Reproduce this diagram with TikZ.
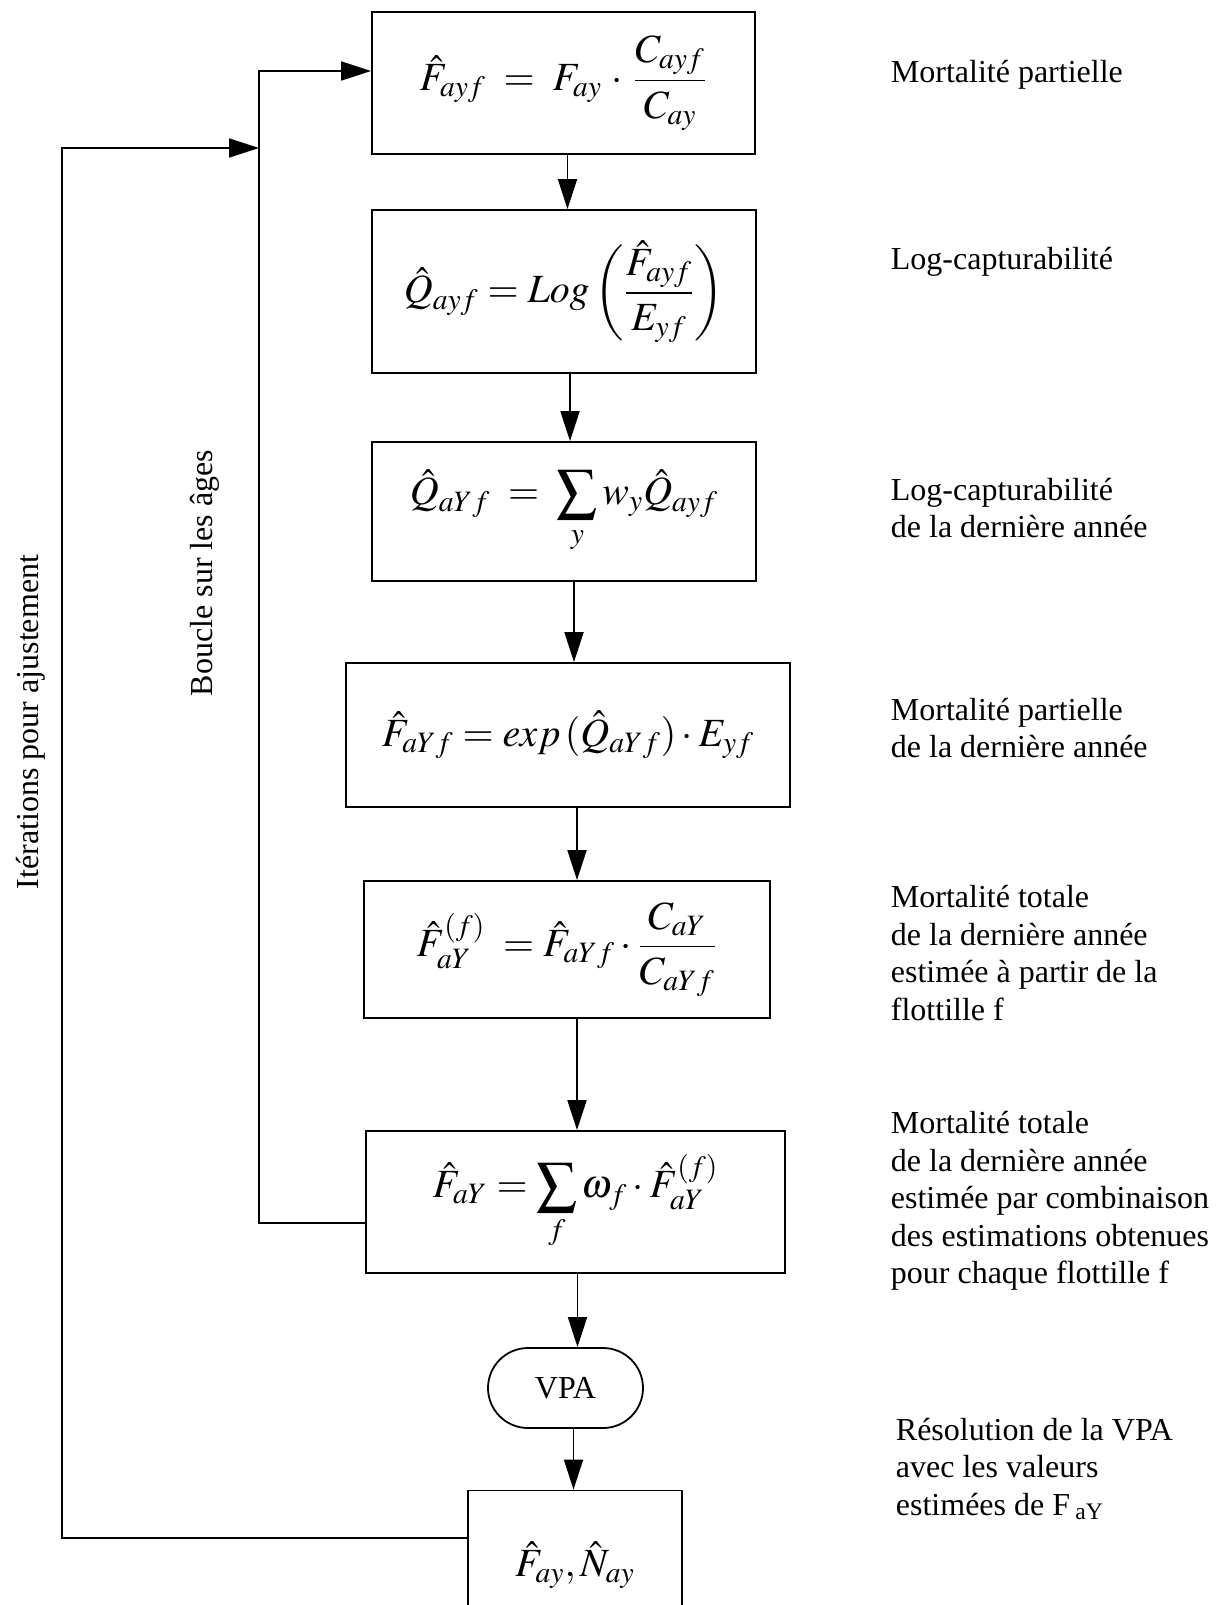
\documentclass[tikz,border=0pt]{standalone}
\usepackage{mathptmx}
\usepackage[no-math]{fontspec}
\setmainfont{Liberation Serif}
\usetikzlibrary{arrows.meta}

\begin{document}
\begin{tikzpicture}[x=0.5pt, y=-0.5pt, line width=0.9pt,
    >={Triangle[length=15pt,width=9.5pt]},
    box/.style={draw, inner sep=0pt, font=\fontsize{20}{24}\selectfont},
    note/.style={anchor=west, align=left, inner sep=0pt, font=\fontsize{16}{18.75}\selectfont},
    side/.style={rotate=90, inner sep=0pt, font=\fontsize{16}{18.75}\selectfont}]
    \useasboundingbox (0,0) rectangle (1227,1605);
    \clip (0,0) rectangle (1227,1605);
    % computation chain
    \node[box, minimum width=191.5pt, minimum height=71pt] (f1) at (563.5,83)
      {$\displaystyle \hat F_{ayf} \;=\; F_{ay}\,\cdot\,\frac{C_{ayf}}{C_{ay}}$};
    \node[box, minimum width=192pt, minimum height=81.5pt] (q1) at (564,291.5)
      {$\displaystyle \hat Q_{ayf} = Log\left(\frac{\hat F_{ayf}}{E_{yf}}\right)$};
    \node[box, minimum width=192pt, minimum height=69.5pt] (qY) at (564,511.5)
      {$\displaystyle \hat Q_{aYf} \;=\; \sum_{y} w_y \hat Q_{ayf}$};
    \node[box, minimum width=222pt, minimum height=72pt] (fY) at (568,735)
      {$\displaystyle \hat F_{aYf} = exp\,(\hat Q_{aYf})\cdot E_{yf}$};
    \node[box, minimum width=203pt, minimum height=68.5pt] (fYf) at (567,949.5)
      {$\displaystyle \hat F^{(f)}_{aY}\; = \hat F_{aYf}\cdot\frac{C_{aY}}{C_{aYf}}$};
    \node[box, minimum width=209.5pt, minimum height=71pt] (fT) at (575.5,1202)
      {$\displaystyle \hat F_{aY} = \sum_{f}\omega_f\cdot\hat F^{(f)}_{aY}$};
    \node[box, rounded corners=20pt, minimum width=77.5pt, minimum height=40pt,
      font=\fontsize{16}{18.75}\selectfont] (vpa) at (565.5,1388) {VPA};
    \node[box, minimum width=107pt, minimum height=74.5pt] (fn) at (575,1565)
      {$\hat F_{ay}, \hat N_{ay}$};
    \foreach \a/\b/\d in {f1/q1/2, q1/qY/3, qY/fY/5, fY/fYf/4.5, fYf/fT/5, fT/vpa/1, vpa/fn/4}
      \draw[->] ([xshift=\d pt]\a.south) -- ([xshift=\d pt]\a.south |- \b.north);
    % loops
    \coordinate (inTop) at (259,71);
    \coordinate (inBot) at (259,1223);
    \coordinate (outTop) at (62,148);
    \coordinate (outBot) at (62,1538);
    \draw[->] (fT.west |- inBot) -- (inBot) -- (inTop) -- (f1.west |- inTop);
    \draw[->] (fn.west |- outBot) -- (outBot) -- (outTop) -- (inTop |- outTop);
    \node[side] (iter) at (31,722) {Itérations pour ajustement};
    \node[side] (ages) at (205,573) {Boucle sur les âges};
    % comments on the right
    \node[note] (n1) at (890,75) {Mortalité partielle};
    \node[note] (n2) at (890,262) {Log-capturabilité};
    \node[note] (n3) at (890,508) {Log-capturabilité\\de la dernière année};
    \node[note] (n4) at (890,728) {Mortalité partielle\\de la dernière année};
    \node[note] (n5) at (890,953) {Mortalité totale\\de la dernière année\\estimée à partir de la\\flottille f};
    \node[note] (n6) at (890,1201) {Mortalité totale\\de la dernière année\\estimée par combinaison\\des estimations obtenues\\pour chaque flottille f};
    \node[note] (n7) at (895,1469) {Résolution de la VPA\\avec les valeurs\\estimées de F\,\textsubscript{aY}};
\end{tikzpicture}
\end{document}
